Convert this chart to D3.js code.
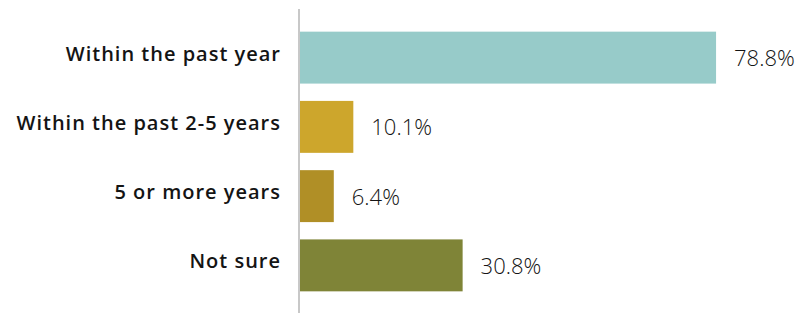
<!DOCTYPE html>
<html>
<head>
<meta charset="utf-8">
<script src="https://cdn.jsdelivr.net/npm/d3@7"></script>
<style>
html,body{margin:0;padding:0;background:#fff;}
svg{display:block;}
</style>
</head>
<body>
<svg id="chart" width="809" height="313"></svg>
<script>
const categories = ["Within the past year", "Within the past 2-5 years", "5 or more years", "Not sure"];
const values = [78.8, 10.1, 6.4, 30.8];
const valueLabels = ["78.8%", "10.1%", "6.4%", "30.8%"];
const colors = ["#97cbc9", "#cda62c", "#b08f26", "#7f8437"];

const svg = d3.select("#chart");
const x = d3.scaleLinear().domain([0, 100]).range([300, 828]);
const y = d3.scaleBand().domain(categories).range([23, 300]).paddingInner(0.25).paddingOuter(0.125);

const data = categories.map((c, i) => ({c, v: values[i], label: valueLabels[i], color: colors[i]}));

svg.selectAll("rect.bar").data(data).join("rect")
  .attr("class", "bar")
  .attr("x", x(0))
  .attr("y", d => y(d.c))
  .attr("width", d => x(d.v) - x(0))
  .attr("height", y.bandwidth())
  .attr("fill", d => d.color);

svg.append("line")
  .attr("x1", 299).attr("x2", 299)
  .attr("y1", 9).attr("y2", 313)
  .attr("stroke", "#c8c8c8").attr("stroke-width", 2);

svg.selectAll("text.cat").data(data).join("text")
  .attr("class", "cat")
  .attr("x", 281)
  .attr("y", d => y(d.c) + y.bandwidth() / 2 + 3)
  .attr("text-anchor", "end")
  .attr("font-family", "'Open Sans', sans-serif")
  .attr("font-weight", 600)
  .attr("font-size", 20)
  .attr("letter-spacing", 1.0)
  .attr("fill", "#141414")
  .text(d => d.c);

svg.selectAll("text.val").data(data).join("text")
  .attr("class", "val")
  .attr("x", d => x(d.v) + 18)
  .attr("y", d => y(d.c) + y.bandwidth() / 2 + 8.5)
  .attr("text-anchor", "start")
  .attr("font-family", "'Open Sans', sans-serif")
  .attr("font-weight", 300)
  .attr("font-size", 22)
  .attr("fill", "#141414")
  .text(d => d.label);
</script>
</body>
</html>
